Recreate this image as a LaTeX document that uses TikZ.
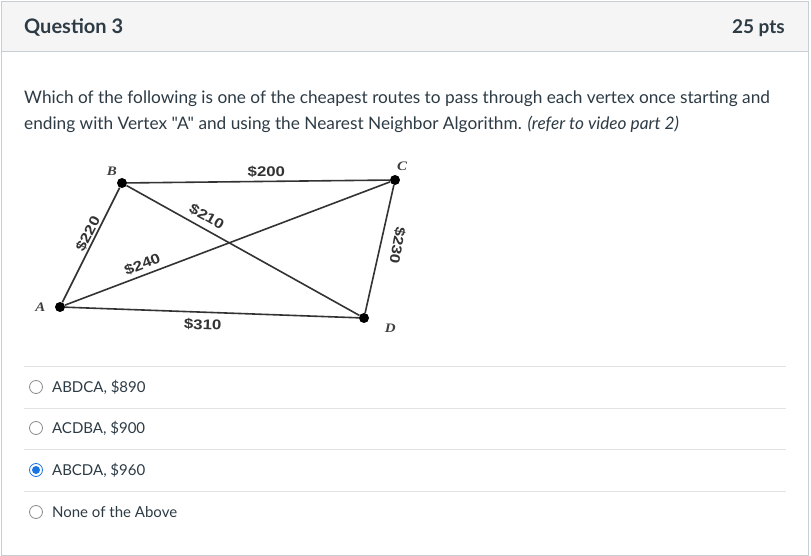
\documentclass[tikz,border=0pt]{standalone}
\usepackage{fontspec}
\setmainfont{Lato}[Ligatures=TeXOff]
\newfontfamily\graphfont{Liberation Sans}
\newfontfamily\vertfont{Liberation Serif}
\usetikzlibrary{positioning}
\definecolor{canvastext}{HTML}{2D3B45}
\definecolor{framegray}{HTML}{C7CDD1}
\definecolor{headgray}{HTML}{F5F5F5}
\definecolor{rulegray}{HTML}{E3E3E3}
\definecolor{radioblue}{HTML}{1B74E4}
\begin{document}
\begin{tikzpicture}[x=1pt,y=-1pt,
	vertex/.style={circle,fill=black,inner sep=0pt,minimum size=10pt},
	vlabel/.style={font=\vertfont\bfseries\itshape\fontsize{13}{13}\selectfont,text=black!75,inner sep=1pt,xscale=1.15},
	cost/.style={font=\graphfont\bfseries\fontsize{14}{14}\selectfont,text=black!80,inner sep=1.5pt,xscale=1.2},
	edge/.style={draw=black!80,line width=1.6pt},
	radio/.style={circle,draw=black!45,line width=0.8pt,minimum size=13pt,inner sep=0pt},
	answer/.style={anchor=west,font=\fontsize{15}{18}\selectfont,text=canvastext,inner sep=0pt}]
	\useasboundingbox (0,0) rectangle (811,556);
	%frame
	\fill[white] (0,0) rectangle (811,556);
	\fill[headgray] (2,2) rectangle (808,51);
	\draw[framegray] (2,51) -- (808,51);
	\draw[framegray] (1.5,1.5) rectangle (808.5,555);
	%header
	\node[anchor=base west,inner sep=0pt,font=\bfseries\fontsize{20}{24}\selectfont,text=canvastext] (title) at (24,34) {Question 3};
	\node[anchor=base east,inner sep=0pt,font=\bfseries\fontsize{19}{24}\selectfont,text=canvastext] (points) at (785,34) {25 pts};
	%question
	\node[anchor=base west,inner sep=0pt,font=\fontsize{17.25}{26}\selectfont,text=canvastext] (line1) at (24,104)
	{Which of the following is one of the cheapest routes to pass through each vertex once starting and};
	\node[anchor=base west,inner sep=0pt,font=\fontsize{17.25}{26}\selectfont,text=canvastext] (line2) at (24,130)
	{ending with Vertex "A" and using the Nearest Neighbor Algorithm. \textit{(refer to video part 2)}};
	%graph
	\node[vertex,label={[vlabel,label distance=7pt]180:A}] (A) at (60,307) {};
	\node[vertex,label={[vlabel,label distance=2pt]120:B}] (B) at (122,183) {};
	\node[vertex,label={[vlabel,label distance=3pt]85:C}] (C) at (395,180) {};
	\node[vertex,label={[vlabel,label distance=13pt]-15:D}] (D) at (364,318) {};
	\draw[edge] (A) -- node[pos=.565,rotate=63,cost,anchor=south,outer sep=0.5pt] {\$220} (B);
	\draw[edge] (B) -- node[pos=.53,cost,anchor=south,outer sep=2pt] {\$200} (C);
	\draw[edge] (B) -- node[pos=.32,rotate=-29,cost,anchor=south,outer sep=4.5pt] {\$210} (D);
	\draw[edge] (A) -- node[pos=.25,rotate=21,cost,anchor=south,outer sep=3.5pt] {\$240} (C);
	\draw[edge] (C) -- node[pos=.45,rotate=-100,cost,anchor=south,outer sep=9.5pt] {\$230} (D);
	\draw[edge] (A) -- node[pos=.47,rotate=-2,cost,anchor=north,outer sep=5.5pt] {\$310} (D);
	%answers
	\foreach \y in {366,408,449,491}
		\draw[rulegray] (24,\y) -- (786,\y);
	\node[radio] (r1) at (36,387) {};
	\node[radio] (r2) at (36,428) {};
	\node[radio,draw=radioblue] (r3) at (36,470) {};
	\node[radio] (r4) at (36,512) {};
	\fill[radioblue] (r3) circle (4pt);
	\node[answer,right=9pt of r1] (a1) {ABDCA, \$890};
	\node[answer,right=9pt of r2] (a2) {ACDBA, \$900};
	\node[answer,right=9pt of r3] (a3) {ABCDA, \$960};
	\node[answer,right=9pt of r4] (a4) {None of the Above};
\end{tikzpicture}
\end{document}
